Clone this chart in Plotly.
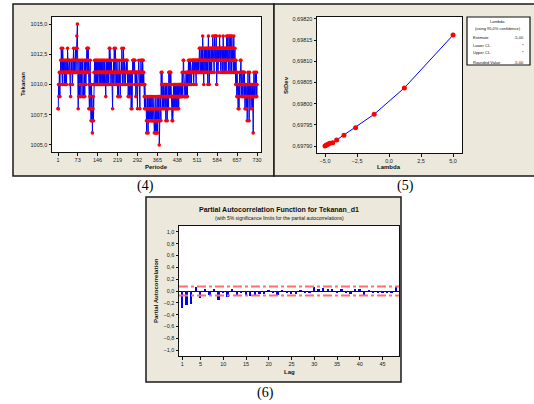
import plotly.graph_objects as go

W, H = 534, 404

# ---------------- data ----------------
# Panel (4): Tekanan per periode, coded as (value - 1005) in hex digits, 10 periods per group
tekanan_codes = [
    "3354565466", "7686675867", "6765676567", "6567686766", "7676564676",
    "6765676867", "7676876789", "8a76364764", "6576465766", "7465467646",
    "7656768786", "7863536475", "3235231234", "2565765675", "6756756675",
    "6576657656", "7656765676", "5766546765", "6765675686", "8676567656",
    "3656768765", "8676567654", "6546765646", "5676876567", "8656766567",
    "6767656465", "6456465636", "6356767676", "7675646565", "6356567656",
    "3656767565", "7675654354", "4343213243", "1324234323", "4323423243",
    "2321234213", "1234123423", "4024343264", "5653454354", "5434524543",
    "2435436564", "6546543424", "2435434534", "5435434543", "4534545454",
    "5454565457", "7654545456", "5465465676", "5676576765", "6767676576",
    "7676765767", "6767676787", "8767876876", "9876578767", "8768768765",
    "8978568768", "7876878987", "8768987898", "9578786878", "7898786878",
    "8768798768", "7867876898", "7898678987", "6898768987", "8768976787",
    "6576546545", "3453564575", "7654656456", "6546534534", "3452456454",
    "2465454354", "5435414564", "5456545645",
]
tekanan_base = 1005
tekanan = [tekanan_base + int(c, 16) for c in "".join(tekanan_codes)]
periode = list(range(1, len(tekanan) + 1))
periode_ticks = [1, 73, 146, 219, 292, 365, 438, 511, 584, 657, 730]
tekanan_ticks = [1005.0, 1007.5, 1010.0, 1012.5, 1015.0]

# Panel (5): Box-Cox plot
lam = [-5.0, -4.92, -4.84, -4.74, -4.61, -4.40, -4.09, -3.52, -2.61, -1.16, 1.20, 5.0]
stdev = [0.697900, 0.6979016, 0.6979032, 0.6979047, 0.6979063, 0.6979079,
         0.6979142, 0.6979253, 0.6979434, 0.6979750, 0.6980373, 0.6981620]
lam_ticks = [-5.0, -2.5, 0.0, 2.5, 5.0]
stdev_ticks = [0.69790, 0.69795, 0.69800, 0.69805, 0.69810, 0.69815, 0.69820]
legend_rows = [("Estimate", "-5,00"), ("Lower CL", "*"), ("Upper CL", "*"), ("Rounded Value", "-5,00")]

# Panel (6): PACF
lags = list(range(1, 49))
pacf = [-0.28, -0.24, -0.22, 0.06, -0.12, 0.02, -0.07, 0.035, -0.15, -0.02,
        -0.10, 0.02, -0.08, -0.04, -0.06, -0.08, -0.06, -0.05, -0.05, 0.01,
        -0.02, -0.06, 0.01, -0.03, -0.05, -0.05, 0.01, -0.03, -0.04, 0.07,
        0.02, 0.05, 0.04, 0.04, -0.03, 0.04, -0.02, -0.05, 0.02, 0.03,
        -0.07, 0.01, -0.03, -0.03, -0.03, -0.03, -0.02, 0.08]
sig_limit = 0.0741
pacf_ticks = [1.0, 0.8, 0.6, 0.4, 0.2, 0.0, -0.2, -0.4, -0.6, -0.8, -1.0]
lag_ticks = [1, 5, 10, 15, 20, 25, 30, 35, 40, 45]

# ---------------- helpers ----------------
def px(x):
    return x / W

def py(y):
    return 1 - y / H

FONT = "Liberation Sans, Arial, sans-serif"
tickfont = dict(family=FONT, size=5.5, color="#222")

def axis_common():
    return dict(showgrid=False, zeroline=False, showline=True, linecolor="#111",
                linewidth=1, mirror=True, ticks="outside", ticklen=2.5, tickwidth=1,
                tickcolor="#111", tickfont=tickfont, fixedrange=True)

fig = go.Figure()

# Panel 4
fig.add_trace(go.Scatter(x=periode, y=tekanan, mode="lines+markers",
                         line=dict(color="#0000FF", width=1),
                         marker=dict(color="#FF0000", size=3.6),
                         xaxis="x", yaxis="y", showlegend=False))
# Panel 5
fig.add_trace(go.Scatter(x=lam, y=stdev, mode="lines+markers",
                         line=dict(color="#0000FF", width=1),
                         marker=dict(color="#FF0000", size=5),
                         xaxis="x2", yaxis="y2", showlegend=False))
# Panel 6
lag_range = [0.28, 48.6]
fig.add_trace(go.Bar(x=lags, y=pacf, width=0.4, marker=dict(color="#0000FF", line=dict(width=0)),
                     xaxis="x3", yaxis="y3", showlegend=False))
for s in (1, -1):
    fig.add_trace(go.Scatter(x=lag_range, y=[s * sig_limit] * 2, mode="lines",
                             line=dict(color="#FF6F6F", width=2, dash="dashdot"),
                             xaxis="x3", yaxis="y3", showlegend=False))

xa = axis_common()
xa.update(domain=[px(52), px(261)], range=[-21, 744.6], tickvals=periode_ticks, anchor="y")
ya = axis_common()
ya.update(domain=[py(152), py(17)], range=[1004.42, 1015.58], tickvals=tekanan_ticks,
          tickformat=".1f", anchor="x")

xa2 = axis_common()
xa2.update(domain=[px(317), px(462)], range=[-5.625, 5.70], tickvals=lam_ticks,
           tickformat=".1f", anchor="y2")
ya2 = axis_common()
ya2.update(domain=[py(153), py(17)], range=[0.6978835, 0.6982047], tickvals=stdev_ticks,
           tickformat=".5f", anchor="x2")

xa3 = axis_common()
xa3.update(domain=[px(179), px(399)], range=lag_range, tickvals=lag_ticks, anchor="y3")
ya3 = axis_common()
ya3.update(domain=[py(356), py(226)], range=[-1.10, 1.10], tickvals=pacf_ticks,
           tickformat=".1f", anchor="x3", zeroline=True, zerolinecolor="#111", zerolinewidth=1)

shapes = []
# panel frames
for (x0, y0, x1, y1) in [(13, 4, 274, 176), (274, 4, 537, 176), (146, 197, 401, 382)]:
    shapes.append(dict(type="rect", xref="paper", yref="paper", x0=px(x0), x1=px(x1),
                       y0=py(y1), y1=py(y0), fillcolor="#ECE9DC",
                       line=dict(color="#1a1a1a", width=1.5), layer="below"))
# white plot areas
for (x0, y0, x1, y1) in [(52, 17, 261, 152), (317, 17, 462, 153), (179, 226, 399, 356)]:
    shapes.append(dict(type="rect", xref="paper", yref="paper", x0=px(x0), x1=px(x1),
                       y0=py(y1), y1=py(y0), fillcolor="white", line=dict(width=0), layer="below"))
# legend box of panel 5
shapes.append(dict(type="rect", xref="paper", yref="paper", x0=px(467), x1=px(530),
                   y0=py(65), y1=py(17), fillcolor="white",
                   line=dict(color="#111", width=1.2), layer="above"))

ann = []

def text(x, y, s, size=6, bold=False, angle=0, xanchor="center", family=FONT, color="#111"):
    ann.append(dict(x=px(x), y=py(y), xref="paper", yref="paper", text=f"<b>{s}</b>" if bold else s,
                    showarrow=False, textangle=angle, xanchor=xanchor, yanchor="middle",
                    font=dict(family=family, size=size, color=color), borderpad=0))

# axis titles
text(23, 84, "Tekanan", 6, True, -90)
text(156, 167, "Periode", 6, True)
text(286, 85, "StDev", 6, True, -90)
text(389, 167, "Lambda", 6, True)
text(156, 291, "Partial Autocorrelation", 6, True, -90)
text(289, 372, "Lag", 6, True)
# panel 6 title
text(279, 209, "Partial Autocorrelation Function for Tekanan_d1", 7, True)
text(279, 218, "(with 5% significance limits for the partial autocorrelations)", 5)
# legend box texts
text(498, 21, "Lambda", 4)
text(498, 28, "(using 95,0% confidence)", 4)
for (lab, val), yy in zip(legend_rows, [38, 46, 52, 62]):
    text(472, yy, lab, 4, xanchor="left")
    text(525, yy, val, 4, xanchor="right")
# captions
SERIF = "Liberation Serif, Times New Roman, serif"
text(145, 186, "(4)", 14, family=SERIF, color="#000")
text(405, 186, "(5)", 14, family=SERIF, color="#000")
text(265, 393, "(6)", 14, family=SERIF, color="#000")

fig.update_layout(
    width=W, height=H, autosize=False,
    margin=dict(l=0, r=0, t=0, b=0),
    paper_bgcolor="white", plot_bgcolor="white",
    separators=",.",
    xaxis=xa, yaxis=ya, xaxis2=xa2, yaxis2=ya2, xaxis3=xa3, yaxis3=ya3,
    shapes=shapes, annotations=ann, showlegend=False, bargap=0,
)

fig.write_html("out.html", config={"displayModeBar": False},
               post_script="document.body.style.margin='0px';document.body.style.overflow='hidden';")
